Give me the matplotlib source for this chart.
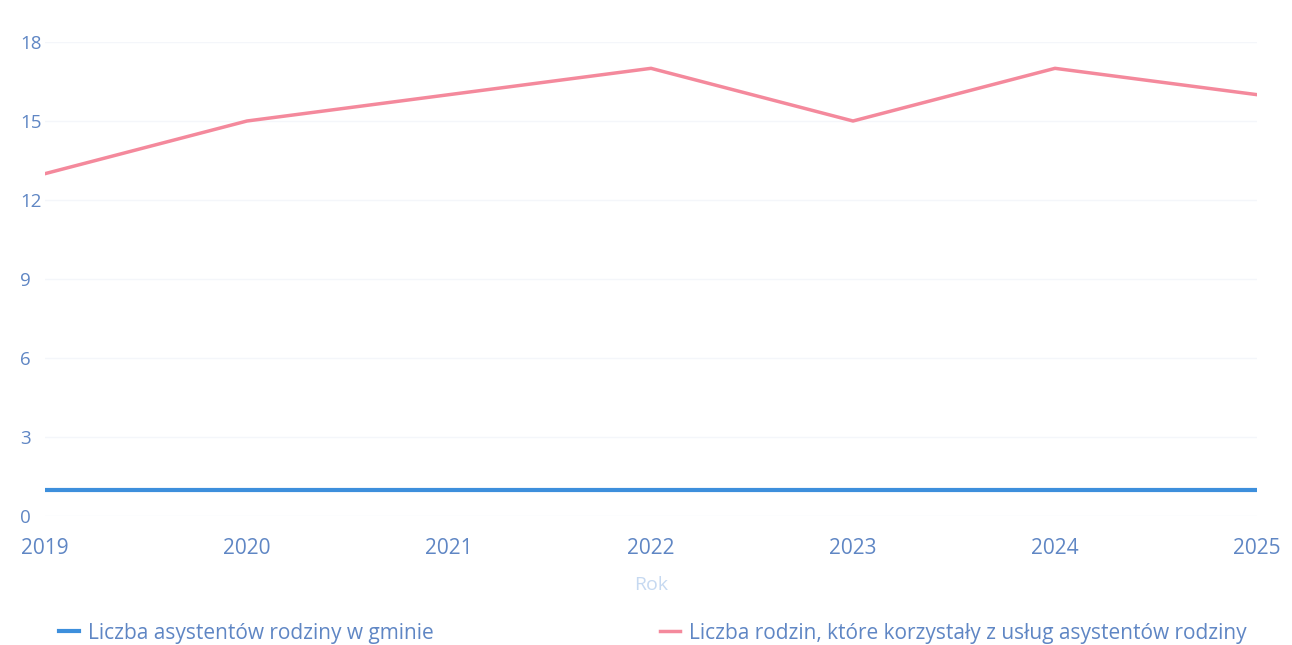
import matplotlib.pyplot as plt
from matplotlib.lines import Line2D

plt.rcParams['font.family'] = ['Open Sans', 'DejaVu Sans']

years = [2019, 2020, 2021, 2022, 2023, 2024, 2025]
asystenci = [1, 1, 1, 1, 1, 1, 1]
rodziny = [13, 15, 16, 17, 15, 17, 16]
y_ticks = [0, 3, 6, 9, 12, 15, 18]

label_blue = 'Liczba asystentów rodziny w gminie'
label_pink = 'Liczba rodzin, które korzystały z usług asystentów rodziny'

blue = '#3d8fdc'
pink = '#f4899c'
tick_color = '#5f86c4'

fig = plt.figure(figsize=(12.92, 6.45), dpi=100)
ax = fig.add_axes([45 / 1292, 1 - 516 / 645, (1257 - 45) / 1292, (516 - 42) / 645])

ax.plot(years, asystenci, color=blue, linewidth=3, solid_capstyle='butt')
ax.plot(years, rodziny, color=pink, linewidth=2.5)

ax.set_xlim(2019, 2025)
ax.set_ylim(0, 18)
ax.set_yticks(y_ticks)
ax.set_xticks(years)
ax.grid(axis='y', color='#f4f6fa', linewidth=1)
ax.set_axisbelow(True)
for s in ax.spines.values():
    s.set_visible(False)
ax.tick_params(length=0, colors=tick_color)
ax.tick_params(axis='y', pad=18, labelsize=13.5)
ax.tick_params(axis='x', pad=16, labelsize=15)
for lbl in ax.get_yticklabels():
    lbl.set_horizontalalignment('left')
ax.set_xlabel('Rok', color='#c6d9f1', fontsize=14, labelpad=12)

# legend along the bottom
h1 = Line2D([], [], color=blue, linewidth=3)
h2 = Line2D([], [], color=pink, linewidth=2.5)
fig.legend([h1], [label_blue], loc='center left', bbox_to_anchor=(40 / 1292, 1 - 633 / 645),
           frameon=False, fontsize=15, handlelength=0.95, handletextpad=0.45, labelcolor=tick_color)
fig.legend([h2], [label_pink], loc='center left', bbox_to_anchor=(641 / 1292, 1 - 633 / 645),
           frameon=False, fontsize=15, handlelength=0.95, handletextpad=0.45, labelcolor=tick_color)

plt.savefig('out.png', dpi=100)
